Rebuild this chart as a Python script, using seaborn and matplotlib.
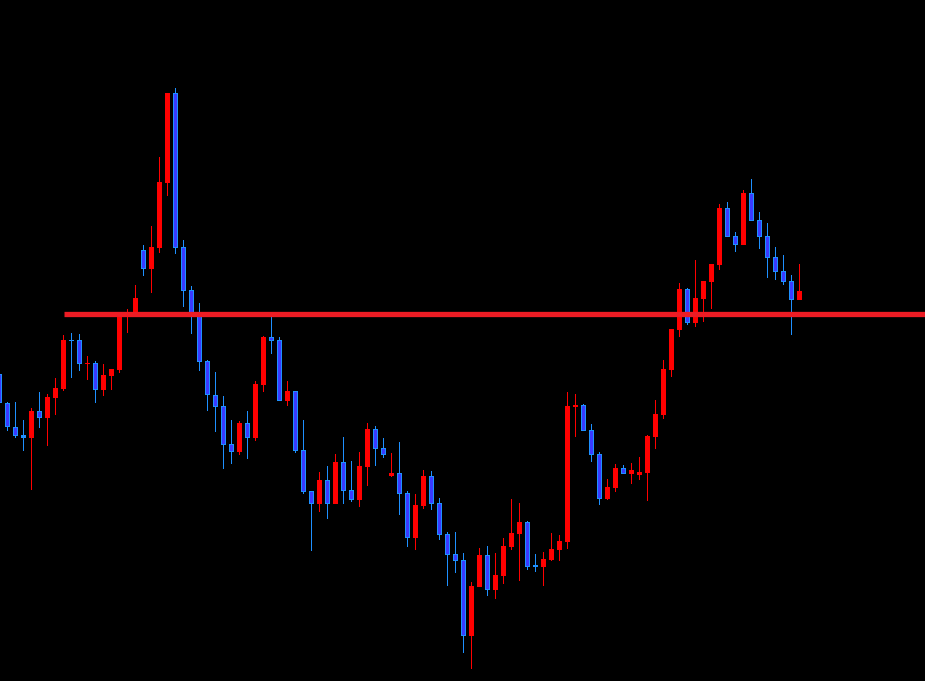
import numpy as np
import pandas as pd
import seaborn as sns
import matplotlib
matplotlib.use("Agg")
import matplotlib.pyplot as plt

# OHLC (arbitrary price units, one candle per bar)
opens = [307, 278, 254, 246, 243, 270, 263, 283, 292, 341, 341, 317, 318, 291, 305, 311, 364, 368, 431, 412,
         433, 498, 588, 434, 391, 368, 320, 286, 275, 237, 229, 258, 243, 296, 344, 341, 280, 290, 231, 190,
         177, 201, 177, 219, 191, 181, 214, 252, 233, 205, 208, 188, 143, 175, 205, 178, 147, 127, 121, 45,
         94, 126, 91, 105, 134, 147, 159, 115, 114, 121, 131, 139, 274, 276, 251, 227, 182, 193, 213, 207,
         206, 208, 244, 266, 311, 351, 392, 358, 382, 399, 416, 473, 445, 436, 488, 461, 445, 424, 410, 400, 381]
highs = [309, 279, 279, 261, 273, 289, 287, 303, 346, 348, 347, 325, 320, 317, 312, 368, 372, 396, 436, 455,
         524, 588, 593, 441, 395, 378, 321, 309, 285, 261, 260, 270, 300, 345, 365, 344, 300, 290, 261, 190,
         209, 215, 227, 244, 220, 229, 258, 255, 243, 228, 239, 190, 187, 211, 210, 183, 149, 149, 128, 99,
         133, 135, 128, 143, 182, 178, 160, 127, 129, 148, 146, 289, 287, 277, 257, 229, 202, 217, 216, 218,
         224, 246, 281, 321, 352, 398, 393, 421, 400, 417, 477, 479, 449, 491, 502, 469, 458, 434, 426, 406, 417]
lows = [277, 250, 243, 230, 191, 253, 235, 266, 290, 303, 310, 301, 278, 285, 291, 308, 348, 368, 405, 388,
        428, 485, 427, 374, 347, 310, 270, 249, 212, 217, 226, 222, 240, 289, 327, 280, 275, 228, 187, 130,
        169, 162, 177, 177, 179, 174, 195, 215, 223, 204, 166, 134, 131, 172, 171, 141, 95, 108, 28, 12,
        94, 85, 82, 97, 131, 100, 111, 109, 95, 120, 120, 132, 244, 250, 219, 176, 181, 189, 207, 197,
        201, 180, 232, 262, 304, 344, 356, 354, 359, 372, 411, 444, 429, 436, 460, 432, 403, 401, 396, 346, 381]
closes = [278, 254, 245, 243.5, 270, 263, 284, 293, 341, 340, 317, 318, 291, 306, 312, 368, 369, 383, 412, 434,
          499, 588, 433, 390, 367, 319, 286, 274, 236, 229, 258, 243, 297, 344, 340, 280, 290, 230, 189, 177,
          201, 177, 219, 190, 181, 215, 252, 232, 226, 208, 187, 143, 176, 205, 177, 146, 126, 120, 45, 95,
          126, 91, 106, 135, 148, 159, 114, 114.5, 122, 132, 140, 275, 276, 250, 226, 182, 194, 213, 207, 211,
          209, 245, 267, 312, 352, 392, 358, 383, 400, 417, 473, 444, 436, 488, 460, 444, 423, 409, 399, 381, 390]

level = 367          # horizontal level drawn across the chart
level_start = 8.1    # candle index where the level line begins

df = pd.DataFrame({"open": opens, "high": highs, "low": lows, "close": closes})
df["idx"] = np.arange(len(df))
df["up"] = df["close"] >= df["open"]

sns.set_style("dark", {"axes.facecolor": "black", "figure.facecolor": "black"})

fig = plt.figure(figsize=(9.25, 6.81), dpi=100)
ax = fig.add_axes([0, 0, 1, 1])
ax.set_facecolor("black")

red = "#ff0000"
blue_fill = "#3a3aff"
blue_edge = "#1e90ff"

# wicks
wick_colors = [red if u else blue_edge for u in df["up"]]
ax.vlines(df["idx"], df["low"], df["high"], colors=wick_colors, linewidth=0.72,
          snap=False, zorder=2)

# bodies (bear bodies get a lighter 1px outline)
bottoms = np.minimum(df["open"], df["close"])
heights = np.maximum(np.abs(df["close"] - df["open"]), 1.5)
up = df["up"].values
dn = ~up
ax.bar(df["idx"][up], heights[up], bottom=bottoms[up], width=0.625,
       color=red, linewidth=0, zorder=3)
ax.bar(df["idx"][dn], heights[dn], bottom=bottoms[dn], width=0.625,
       color=blue_edge, linewidth=0, zorder=3)
inner = dn & (heights.values > 2.5)
ax.bar(df["idx"][inner], heights[inner] - 2, bottom=bottoms[inner] + 1, width=0.375,
       color=blue_fill, linewidth=0, zorder=4)

# horizontal level
ax.plot([level_start, 130], [level, level], color="#ed1c24", linewidth=3.8,
        solid_capstyle="butt", zorder=5)

ax.set_xlim(0.0625, 115.6875)
ax.set_ylim(0, 681)
ax.axis("off")

fig.savefig("out.png", dpi=100, facecolor="black")
